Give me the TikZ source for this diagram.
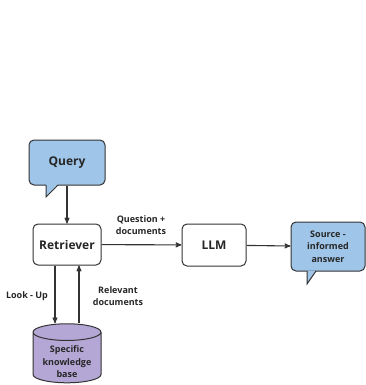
\documentclass[tikz,border=0pt]{standalone}
\usepackage{fontspec}
\setmainfont{Open Sans}
\usepackage{tikz}
\usetikzlibrary{arrows,shapes.geometric}
\definecolor{bubbleblue}{HTML}{9FC5E8}
\definecolor{kbpurple}{HTML}{B4A7D6}
\definecolor{linegray}{HTML}{333333}
\tikzset{
    >=stealth', % Default arrow tip
    box/.style={draw=linegray, line width=1pt, rounded corners=5pt, fill=white,
        minimum width=68pt, minimum height=41pt, inner sep=2pt,
        font=\fontsize{12}{14}\selectfont\bfseries, text=black!85},
    bubble/.style={box, fill=bubbleblue},
    lbl/.style={font=\fontsize{9}{12.5}\selectfont\bfseries, align=center, text=black!85},
    link/.style={->, draw=linegray, line width=1.1pt}
}

\begin{document}
\begin{tikzpicture}[x=1pt, y=-1pt]
    \useasboundingbox (0, 0) rectangle (365, 385);
    \draw
        node [bubble, minimum width=76pt, minimum height=45pt] (query) at (67, 162.5) {Query}
        node [box] (retriever) at (67, 244.5) {Retriever}
        node [box, minimum width=64pt, minimum height=42pt] (llm) at (214, 245) {LLM}
        node [bubble, lbl, minimum width=74pt, minimum height=49pt] (answer) at (328, 246.5) {Source -\\informed\\answer}
    ;
    % speech bubble tails
    \fill
        [bubbleblue]
        (46, 184) -- (46, 197) -- (58, 184) -- cycle
        (307, 270.5) -- (307, 284) -- (316, 270.5) -- cycle
    ;
    \draw
        [linegray, line width=1pt]
        (46, 185) -- (46, 197) -- (58, 185)
        (307, 271) -- (307, 284) -- (316, 271)
    ;
    \draw
        node [cylinder, shape border rotate=90, aspect=2.5, draw=linegray, line width=1pt,
            fill=kbpurple, minimum width=68pt, minimum height=59pt] (kb) at (67, 359.5) {}
        node [lbl] at (67, 362) {Specific\\knowledge\\base}
    ;
    \draw [link] (query) -- (retriever);
    \draw [link] (retriever) -- (llm);
    \draw [link] (llm) -- (answer);
    \draw [link] ([xshift=-12pt]retriever.south) -- ([xshift=-12pt]retriever.south |- kb.north);
    \draw [link] ([xshift=12pt]retriever.south |- kb.north) -- ([xshift=12pt]retriever.south);
    \draw
        node [lbl] at (141, 225) {Question +\\documents}
        node [lbl] at (27, 296) {Look - Up}
        node [lbl] at (118, 296) {Relevant\\documents}
    ;
\end{tikzpicture}
\end{document}
